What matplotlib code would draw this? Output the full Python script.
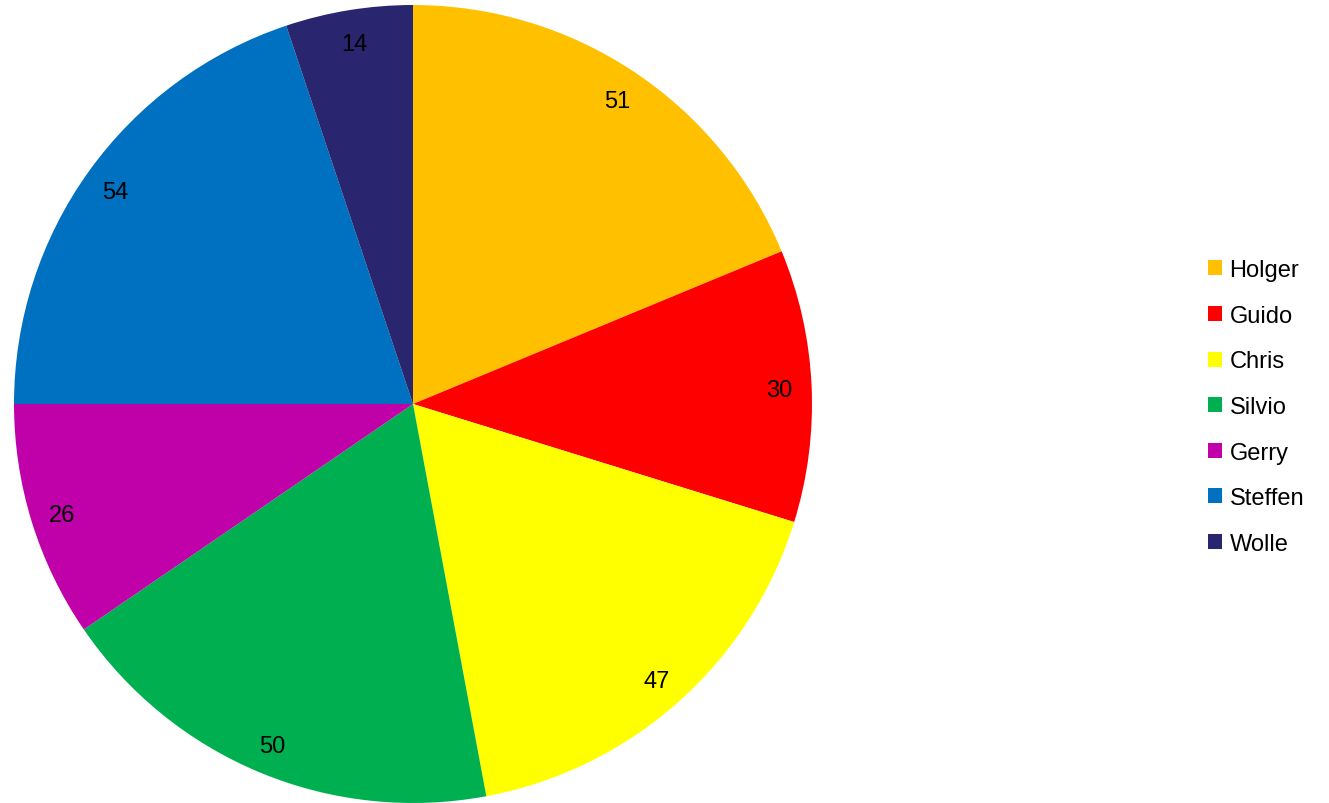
import matplotlib.pyplot as plt
from matplotlib.patches import Patch

plt.rcParams['font.family'] = ['Liberation Sans', 'DejaVu Sans']

names = ['Holger', 'Guido', 'Chris', 'Silvio', 'Gerry', 'Steffen', 'Wolle']
values = [51, 30, 47, 50, 26, 54, 14]
colors = ['#FFC000', '#FF0000', '#FFFF00', '#00B050', '#C000A8', '#0070C0', '#29266F']

fig = plt.figure(figsize=(13.29, 8.04), dpi=100)
ax = fig.add_axes([14 / 1329, 0.0, 798 / 1329, 798 / 804])

wedges, texts = ax.pie(values, colors=colors, startangle=90, counterclock=False,
                       labels=[str(v) for v in values], labeldistance=0.92,
                       wedgeprops=dict(linewidth=0),
                       textprops=dict(fontsize=17, ha='center', va='center_baseline'))
ax.set_xlim(-1, 1)
ax.set_ylim(-1, 1)
ax.set_aspect('equal')

handles = [Patch(facecolor=c, edgecolor='none') for c in colors]
fig.legend(handles, names, loc='center left', bbox_to_anchor=(1187 / 1329, 1 - 408 / 804),
           frameon=False, fontsize=17, handlelength=0.6, handleheight=0.6,
           handletextpad=0.3, labelspacing=1.0)

fig.savefig('out.png', dpi=100)
